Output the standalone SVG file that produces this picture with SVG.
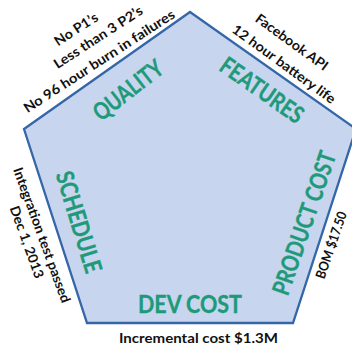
<svg xmlns="http://www.w3.org/2000/svg" width="352" height="351" viewBox="0 0 352 351">
  <style>
    .area { font-family: Lato, "Open Sans", "Liberation Sans", sans-serif; font-weight: 700; font-size: 24px; fill: #1e9a7a; stroke: #1e9a7a; stroke-width: 0.35px; text-anchor: middle; }
    .note { font-family: Lato, "Open Sans", "Liberation Sans", sans-serif; font-weight: 700; font-size: 13.5px; fill: #111; text-anchor: middle; }
  </style>
  <rect width="352" height="351" fill="#ffffff"/>

  <!-- pentagon of project constraints -->
  <g id="pentagon">
    <polygon points="190,12 356,129 293,323 87,323 24,129" fill="#c8d5ee" stroke="#3466a8" stroke-width="2.3" stroke-linejoin="miter"/>
  </g>

  <!-- constraint labels inside the pentagon -->
  <g id="quality">
    <text class="area" transform="translate(128,90) rotate(-38)" dy="0.36em" textLength="82" lengthAdjust="spacingAndGlyphs">QUALITY</text>
  </g>
  <g id="features">
    <text class="area" transform="translate(262,90) rotate(35)" dy="0.36em" textLength="96" lengthAdjust="spacingAndGlyphs">FEATURES</text>
  </g>
  <g id="schedule">
    <text class="area" transform="translate(79,222) rotate(73)" dy="0.36em" textLength="105" lengthAdjust="spacingAndGlyphs">SCHEDULE</text>
  </g>
  <g id="product-cost">
    <text class="area" transform="translate(304,223) rotate(-71)" dy="0.36em" textLength="150" lengthAdjust="spacingAndGlyphs">PRODUCT COST</text>
  </g>
  <g id="dev-cost">
    <text class="area" x="190" y="313" textLength="104" lengthAdjust="spacingAndGlyphs">DEV COST</text>
  </g>

  <!-- targets written along the outside edges -->
  <g id="quality-targets">
    <text class="note" transform="translate(76,29) rotate(-33)" dy="0.36em" textLength="49" lengthAdjust="spacingAndGlyphs">No P1’s</text>
    <text class="note" transform="translate(98,37) rotate(-33)" dy="0.36em" textLength="103" lengthAdjust="spacingAndGlyphs">Less than 3 P2’s</text>
    <text class="note" transform="translate(99,61) rotate(-33)" dy="0.36em" textLength="177" lengthAdjust="spacingAndGlyphs">No 96 hour burn in failures</text>
  </g>
  <g id="feature-targets">
    <text class="note" transform="translate(292,42) rotate(36)" dy="0.36em" textLength="86" lengthAdjust="spacingAndGlyphs">Facebook API</text>
    <text class="note" transform="translate(284,64) rotate(36)" dy="0.36em" textLength="124" lengthAdjust="spacingAndGlyphs">12 hour battery life</text>
  </g>
  <g id="schedule-targets">
    <text class="note" transform="translate(42,235) rotate(70)" dy="0.36em" textLength="143" lengthAdjust="spacingAndGlyphs">Integration test passed</text>
    <text class="note" transform="translate(27,242) rotate(70)" dy="0.36em" textLength="76" lengthAdjust="spacingAndGlyphs">Dec 1, 2013</text>
  </g>
  <g id="product-cost-target">
    <text class="note" transform="translate(331,245) rotate(-71)" dy="0.36em" font-size="12.5" textLength="70" lengthAdjust="spacingAndGlyphs">BOM $17.50</text>
  </g>
  <g id="dev-cost-target">
    <text class="note" x="198.5" y="343" textLength="159" lengthAdjust="spacingAndGlyphs">Incremental cost $1.3M</text>
  </g>
</svg>
